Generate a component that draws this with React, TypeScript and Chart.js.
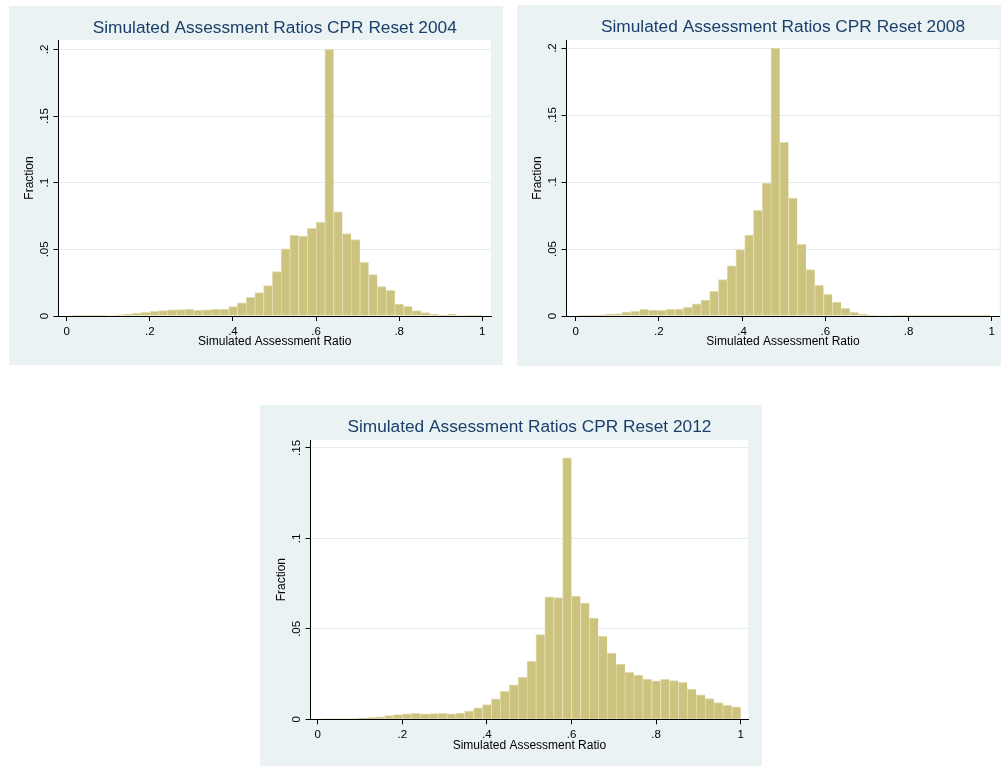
import React, { useEffect, useRef } from "react";
import { Chart, registerables } from "chart.js";

Chart.register(...registerables);

// ---- Data (fractions per histogram bin) ----
const BIN_WIDTH = 0.02105;
const binStart2004 = 0.01065;
const binStart2008 = 0.0063;
const binStart2012 = 0.01065;

const fraction2004 = [
  0.0002, 0.0002, 0.0003, 0.0003, 0.0004, 0.0008, 0.0014, 0.0022, 0.0028, 0.0035,
  0.0041, 0.0047, 0.0049, 0.005, 0.0042, 0.0047, 0.005, 0.0052, 0.0071, 0.0099,
  0.014, 0.0175, 0.0229, 0.0333, 0.0504, 0.0605, 0.06, 0.0657, 0.0704, 0.2,
  0.0782, 0.0619, 0.0573, 0.0402, 0.031, 0.022, 0.0192, 0.009, 0.0073, 0.004,
  0.0025, 0.0012, 0.0007, 0.0012, 0.0004, 0.0002, 0.0001,
];

const fraction2008 = [
  0.0001, 0.0001, 0.0002, 0.0012, 0.0017, 0.0029, 0.0035, 0.005, 0.0045, 0.0043,
  0.0049, 0.0049, 0.0064, 0.009, 0.0118, 0.0185, 0.0272, 0.0374, 0.0496, 0.0604,
  0.0788, 0.0992, 0.2, 0.1296, 0.088, 0.0535, 0.0346, 0.0229, 0.0162, 0.0104,
  0.0057, 0.0027, 0.0015, 0.0007, 0.0004, 0.0003, 0.0002, 0.0002, 0.0001, 0.0001,
  0.0001, 0.0001, 0.0001, 0.0002, 0.0001, 0.0001, 0.0002,
];

const fraction2012 = [
  0.0001, 0.0001, 0.0001, 0.0002, 0.0006, 0.0009, 0.0013, 0.002, 0.0026, 0.003,
  0.0033, 0.003, 0.0031, 0.0033, 0.003, 0.0035, 0.0046, 0.0063, 0.0081, 0.0113,
  0.0155, 0.019, 0.0234, 0.0321, 0.0469, 0.0677, 0.0673, 0.1445, 0.0681, 0.0642,
  0.0559, 0.0458, 0.0366, 0.0305, 0.026, 0.0244, 0.0223, 0.0212, 0.0221, 0.0214,
  0.0204, 0.0167, 0.0135, 0.0115, 0.0093, 0.0077, 0.0069,
];

const xTickValues = [0, 0.2, 0.4, 0.6, 0.8, 1];
const yTickValues2004 = [0, 0.05, 0.1, 0.15, 0.2];
const yTickValues2008 = [0, 0.05, 0.1, 0.15, 0.2];
const yTickValues2012 = [0, 0.05, 0.1, 0.15];

const titles = [
  "Simulated Assessment Ratios CPR Reset 2004",
  "Simulated Assessment Ratios CPR Reset 2008",
  "Simulated Assessment Ratios CPR Reset 2012",
];
const xAxisTitle = "Simulated Assessment Ratio";
const yAxisTitle = "Fraction";

// ---- Styles ----
const FONT = "'Liberation Sans', Arial, Helvetica, sans-serif";
const PANEL_BG = "#EAF2F3";
const BAR_FILL = "#CCC37F";
const BAR_EDGE = "#E2DCAE";
const GRID = "#E4EDEF";
const TITLE_COLOR = "#1A3F6B";

type PanelCfg = {
  box: { left: number; top: number; width: number; height: number };
  area: { left: number; right: number; top: number; bottom: number; titleY: number };
  xMin: number;
  xMax: number;
  yMax: number;
  title: string;
  values: number[];
  binStart: number;
  yTicks: number[];
};

const panels: PanelCfg[] = [
  {
    box: { left: 9, top: 6, width: 494, height: 359 },
    area: { left: 49.5, right: 482, top: 34, bottom: 310, titleY: 22.7 },
    xMin: -0.0197,
    xMax: 1.0209,
    yMax: 0.207,
    title: titles[0],
    values: fraction2004,
    binStart: binStart2004,
    yTicks: yTickValues2004,
  },
  {
    box: { left: 517, top: 5, width: 484, height: 361 },
    area: { left: 49.5, right: 482.5, top: 35, bottom: 311, titleY: 22.5 },
    xMin: -0.0221,
    xMax: 1.0188,
    yMax: 0.206,
    title: titles[1],
    values: fraction2008,
    binStart: binStart2008,
    yTicks: yTickValues2008,
  },
  {
    box: { left: 260, top: 405, width: 502, height: 361 },
    area: { left: 50.5, right: 488.3, top: 35, bottom: 314.3, titleY: 22.5 },
    xMin: -0.017,
    xMax: 1.018,
    yMax: 0.1544,
    title: titles[2],
    values: fraction2012,
    binStart: binStart2012,
    yTicks: yTickValues2012,
  },
];

const fmt = (v: number) => {
  if (v === 0) return "0";
  if (v === 1) return "1";
  return String(v).replace(/^0\./, ".");
};

const plotBg = {
  id: "plotBg",
  beforeDraw(chart: any) {
    const { ctx, chartArea } = chart;
    if (!chartArea) return;
    ctx.save();
    ctx.fillStyle = "#FFFFFF";
    ctx.fillRect(chartArea.left, chartArea.top, chartArea.right - chartArea.left, chartArea.bottom - chartArea.top);
    ctx.restore();
  },
};

const TITLE_SIZE = 17.3;
const Y_AXIS_W = 36;
const X_AXIS_H = 33.2;

function Panel({ cfg }: { cfg: PanelCfg }) {
  const ref = useRef<HTMLCanvasElement | null>(null);

  useEffect(() => {
    if (!ref.current) return;
    const { box, area } = cfg;
    const lh = TITLE_SIZE * 1.2;
    const titlePadTop = area.titleY - lh / 2;
    const titlePadBottom = area.top - titlePadTop - lh;

    const data = cfg.values.map((v, i) => ({ x: cfg.binStart + (i + 0.5) * BIN_WIDTH, y: v }));

    const chart = new Chart(ref.current, {
      type: "bar",
      data: {
        datasets: [
          {
            data: data as any,
            backgroundColor: BAR_FILL,
            borderColor: BAR_EDGE,
            borderWidth: { left: 1, top: 1, right: 0, bottom: 0 } as any,
            borderSkipped: false,
            barPercentage: 1,
            categoryPercentage: 1,
          },
        ],
      },
      options: {
        responsive: false,
        animation: false,
        devicePixelRatio: 1,
        events: [],
        layout: {
          padding: {
            left: area.left - Y_AXIS_W,
            right: box.width - area.right,
            top: 0,
            bottom: box.height - area.bottom - X_AXIS_H,
          },
        },
        plugins: {
          legend: { display: false },
          tooltip: { enabled: false },
          title: {
            display: true,
            text: cfg.title,
            color: TITLE_COLOR,
            fullSize: false,
            font: { family: FONT, size: TITLE_SIZE, weight: "normal" as any, lineHeight: 1.2 },
            padding: { top: titlePadTop, bottom: titlePadBottom },
          },
        },
        scales: {
          x: {
            type: "linear",
            min: cfg.xMin,
            max: cfg.xMax,
            offset: false,
            afterBuildTicks: (s: any) => {
              s.ticks = xTickValues.map((v) => ({ value: v }));
            },
            afterFit: (s: any) => {
              s.height = X_AXIS_H;
            },
            ticks: {
              callback: (v: any) => fmt(Number(v)),
              color: "#000",
              font: { family: FONT, size: 11.5 },
              padding: 3.5,
              autoSkip: false,
              maxRotation: 0,
              minRotation: 0,
            },
            grid: {
              display: true,
              drawOnChartArea: false,
              drawTicks: true,
              tickLength: 5,
              tickColor: "#000",
              offset: false,
            },
            border: { display: true, color: "#000", width: 1 },
            title: {
              display: true,
              text: xAxisTitle,
              color: "#000",
              font: { family: FONT, size: 12, lineHeight: 1.2 },
              padding: 0,
            },
          },
          y: {
            type: "linear",
            min: 0,
            max: cfg.yMax,
            afterBuildTicks: (s: any) => {
              s.ticks = cfg.yTicks.map((v) => ({ value: v }));
            },
            afterFit: (s: any) => {
              s.width = Y_AXIS_W;
            },
            ticks: {
              callback: (v: any) => fmt(Number(v)),
              color: "#000",
              font: { family: FONT, size: 11.5 },
              padding: 1,
              minRotation: 90,
              maxRotation: 90,
              crossAlign: "center",
              autoSkip: false,
            },
            grid: {
              display: true,
              color: GRID,
              lineWidth: 1,
              drawTicks: true,
              tickLength: 5,
              tickColor: "#000",
            },
            border: { display: true, color: "#000", width: 1 },
            title: {
              display: true,
              text: yAxisTitle,
              color: "#000",
              font: { family: FONT, size: 12, lineHeight: 1.2 },
              padding: 0,
            },
          },
        },
      },
      plugins: [plotBg],
    });
    return () => chart.destroy();
  }, [cfg]);

  return (
    <div
      style={{
        position: "absolute",
        left: cfg.box.left,
        top: cfg.box.top,
        width: cfg.box.width,
        height: cfg.box.height,
        background: PANEL_BG,
      }}
    >
      <canvas
        ref={ref}
        width={cfg.box.width}
        height={cfg.box.height}
        style={{ display: "block", width: cfg.box.width, height: cfg.box.height }}
      />
    </div>
  );
}

export default function App() {
  return (
    <div style={{ position: "absolute", left: 0, top: 0, width: 1001, height: 766, overflow: "hidden" }}>
      {panels.map((p, i) => (
        <Panel key={i} cfg={p} />
      ))}
    </div>
  );
}
